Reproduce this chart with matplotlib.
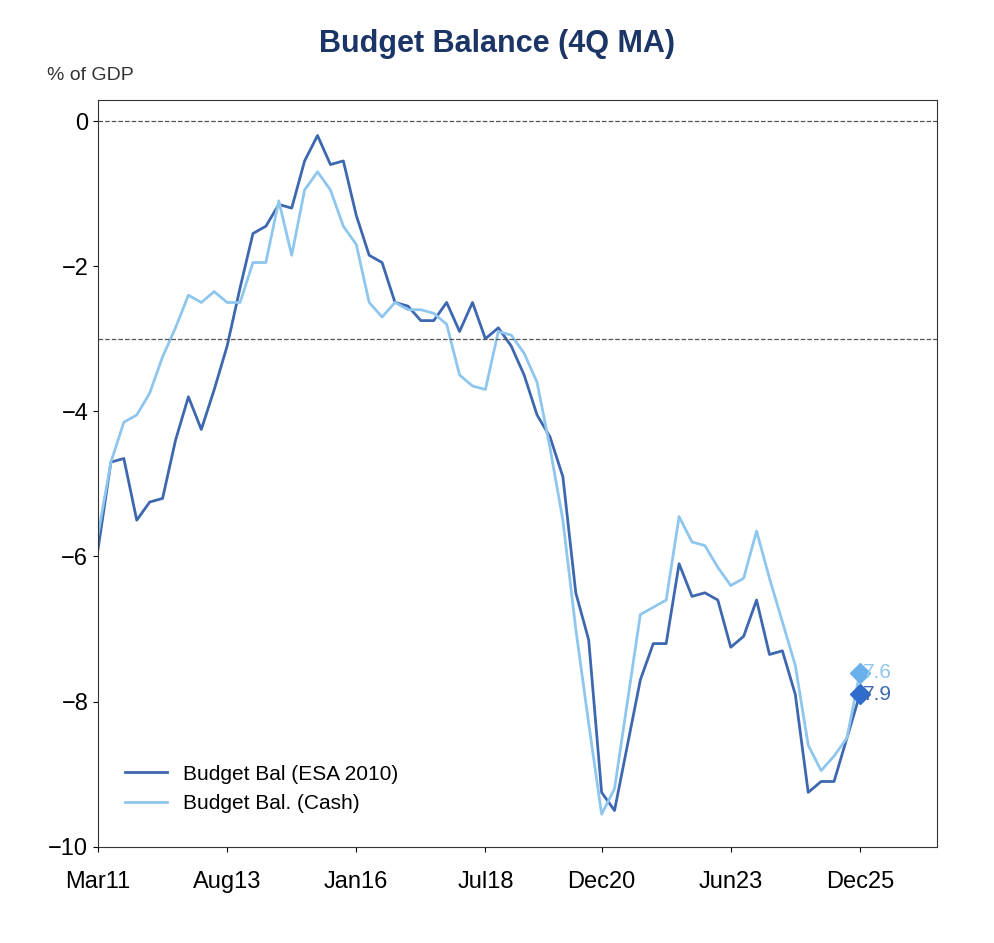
import numpy as np
import matplotlib.pyplot as plt

plt.rcParams['font.family'] = ['Liberation Sans', 'DejaVu Sans']

esa = [-5.9, -4.7, -4.65, -5.5, -5.25, -5.2, -4.4, -3.8, -4.25, -3.7,
       -3.1, -2.3, -1.55, -1.45, -1.15, -1.2, -0.55, -0.2, -0.6, -0.55,
       -1.3, -1.85, -1.95, -2.5, -2.55, -2.75, -2.75, -2.5, -2.9, -2.5,
       -3.0, -2.85, -3.1, -3.5, -4.05, -4.35, -4.9, -6.5, -7.15, -9.25,
       -9.5, -8.6, -7.7, -7.2, -7.2, -6.1, -6.55, -6.5, -6.6, -7.25,
       -7.1, -6.6, -7.35, -7.3, -7.9, -9.25, -9.1, -9.1, -8.5, -7.9]
cash = [-5.7, -4.7, -4.15, -4.05, -3.75, -3.25, -2.85, -2.4, -2.5, -2.35,
        -2.5, -2.5, -1.95, -1.95, -1.1, -1.85, -0.95, -0.7, -0.95, -1.45,
        -1.7, -2.5, -2.7, -2.5, -2.6, -2.6, -2.65, -2.8, -3.5, -3.65,
        -3.7, -2.9, -2.95, -3.2, -3.6, -4.5, -5.5, -7.0, -8.3, -9.55,
        -9.2, -8.0, -6.8, -6.7, -6.6, -5.45, -5.8, -5.85, -6.15, -6.4,
        -6.3, -5.65, -6.3, -6.9, -7.5, -8.6, -8.95, -8.75, -8.5, -7.6]
tick_pos = [0, 10, 20, 30, 39, 49, 59]
tick_labels = ['Mar11', 'Aug13', 'Jan16', 'Jul18', 'Dec20', 'Jun23', 'Dec25']

dark = '#3d68b0'
light = '#8fc6ee'
x = np.arange(len(esa))

fig = plt.figure(figsize=(9.94, 9.43), dpi=100)
ax = fig.add_axes([0.0986, 0.102, 0.8444, 0.792])
ax.plot(x, esa, color=dark, lw=2, label='Budget Bal (ESA 2010)')
ax.plot(x, cash, color=light, lw=2, label='Budget Bal. (Cash)')
ax.axhline(0, color='#555555', ls='--', lw=0.9)
ax.axhline(-3, color='#555555', ls='--', lw=0.9)
ax.plot(x[-1], cash[-1], 'D', color='#6ab0ea', ms=10)
ax.plot(x[-1], esa[-1], 'D', color='#2f6ccc', ms=10)
ax.text(x[-1] + 0.2, cash[-1], '%.1f' % abs(cash[-1]), color=light, fontsize=15, va='center')
ax.text(x[-1] + 0.2, esa[-1], '%.1f' % abs(esa[-1]), color=dark, fontsize=15, va='center')

ax.set_xlim(0, 65)
ax.set_ylim(-10, 0.29)
ax.set_yticks([0, -2, -4, -6, -8, -10])
ax.set_yticklabels(['0', '\u22122', '\u22124', '\u22126', '\u22128', '\u221210'])
ax.set_xticks(tick_pos)
ax.set_xticklabels(tick_labels)
ax.tick_params(labelsize=17)
ax.tick_params(axis='x', pad=14)
for s in ax.spines.values():
    s.set_color('#333333')
ax.legend(loc='lower left', frameon=False, fontsize=15, bbox_to_anchor=(0.01, 0.02))
fig.text(0.5, 0.945, 'Budget Balance (4Q MA)', ha='center', fontsize=22,
         fontweight='bold', color='#1a3566')
fig.text(0.047, 0.915, '% of GDP', fontsize=14, color='#333333')
fig.savefig('out.png')
